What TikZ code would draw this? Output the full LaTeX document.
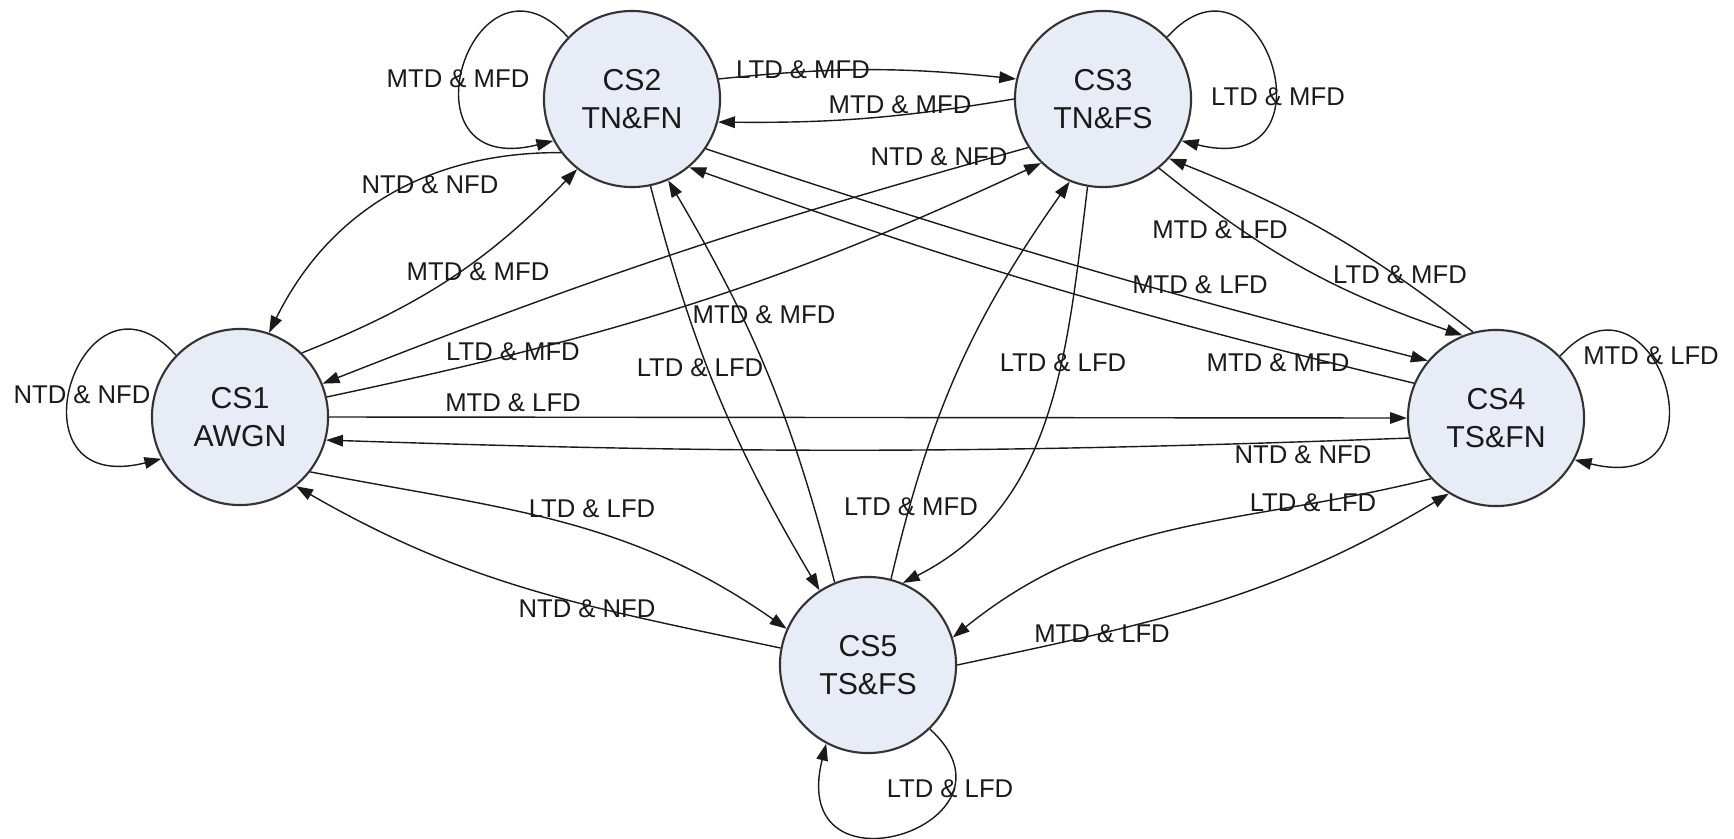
\documentclass[tikz,border=0pt]{standalone}
\usepackage{fontspec}
\setmainfont{Liberation Sans}
\usepackage{xcolor}
\usepackage{tikz}
\usetikzlibrary{arrows.meta}
\definecolor{csfill}{HTML}{E8ECF6}
\definecolor{csline}{HTML}{333333}
\definecolor{csink}{HTML}{1A1A1A}
\tikzset{
  state/.style={circle,draw=csline,line width=0.6pt,fill=csfill,
                minimum size=1.76cm,inner sep=0pt,align=center,
                font=\fontsize{8.6}{10.6}\selectfont,text=csink},
  lbl/.style={inner sep=0pt,font=\fontsize{7.3}{8.8}\selectfont,text=csink},
  flow/.style={-{Triangle[length=4.8pt,width=3.3pt]},line width=0.4pt,draw=csink},
}
\begin{document}
\begin{tikzpicture}[x=0.01cm,y=0.01cm]
\useasboundingbox (0,0) rectangle (1734,838);
\node[state] (cs1) at (240,421)  {CS1\\AWGN};
\node[state] (cs2) at (632,739)  {CS2\\TN\&FN};
\node[state] (cs3) at (1103,739) {CS3\\TN\&FS};
\node[state] (cs4) at (1496,420) {CS4\\TS\&FN};
\node[state] (cs5) at (868,173)  {CS5\\TS\&FS};

\draw[flow] (cs1.136) .. controls +(-95,105) and +(-160,-40) .. (cs1.208);
\draw[flow] (cs2.136) .. controls +(-95,105) and +(-160,-40) .. (cs2.208);
\draw[flow] (cs3.44) .. controls +(95,105) and +(160,-40) .. (cs3.-28);
\draw[flow] (cs4.44) .. controls +(95,105) and +(160,-40) .. (cs4.-28);
\draw[flow] (cs5.-46) .. controls +(105,-95) and +(-40,-160) .. (cs5.-118);

\draw[flow] (cs2.13) to[bend left=6] (cs3.167);
\draw[flow] (cs3.180) to[bend left=5] (cs2.-15);
\draw[flow] (cs2.217) to[bend right=32] (cs1.71);
\draw[flow] (cs1.46) to[bend right=12] (cs2.232);
\draw[flow] (cs3.213) to[bend right=3] (cs1.22);
\draw[flow] (cs1.13) to[out=12,in=205] (cs3.226);
\draw[flow] (cs1.0) -- (cs4.180);
\draw[flow] (cs4.193) to[bend left=2] (cs1.-15);
\draw[flow] (cs1.-38) to[out=-11,in=145] (cs5.156);
\draw[flow] (cs5.169) to[out=168,in=-30] (cs1.-51);
\draw[flow] (cs2.-34) to[bend right=2] (cs4.140);
\draw[flow] (cs4.157) to[bend left=3] (cs2.-50);
\draw[flow] (cs2.-78) to[bend right=8] (cs5.123);
\draw[flow] (cs5.112) to[bend right=8] (cs2.-66);
\draw[flow] (cs3.-51) to[bend right=10] (cs4.112);
\draw[flow] (cs4.105) to[bend right=8] (cs3.-42);
\draw[flow] (cs3.260) to[out=263,in=27] (cs5.67);
\draw[flow] (cs5.75) to[bend left=11] (cs3.248);
\draw[flow] (cs4.223) to[out=194,in=39] (cs5.18);
\draw[flow] (cs5.0) to[out=12,in=211] (cs4.238);

\node[lbl] (n11) at (82,443)   {NTD \& NFD};
\node[lbl] (n22) at (458,759)  {MTD \& MFD};
\node[lbl] (n33) at (1278,741) {LTD \& MFD};
\node[lbl] (n44) at (1651,482) {MTD \& LFD};
\node[lbl] (n55) at (950,49)   {LTD \& LFD};
\node[lbl] (n23) at (803,768)  {LTD \& MFD};
\node[lbl] (n32) at (900,733)  {MTD \& MFD};
\node[lbl] (n21) at (430,653)  {NTD \& NFD};
\node[lbl] (n12) at (478,566)  {MTD \& MFD};
\node[lbl] (n31) at (939,681)  {NTD \& NFD};
\node[lbl] (n13) at (513,486)  {LTD \& MFD};
\node[lbl] (n14) at (513,435)  {MTD \& LFD};
\node[lbl] (n41) at (1303,383) {NTD \& NFD};
\node[lbl] (n15) at (592,329)  {LTD \& LFD};
\node[lbl] (n51) at (587,229)  {NTD \& NFD};
\node[lbl] (n24) at (1200,553) {MTD \& LFD};
\node[lbl] (n42) at (1278,475) {MTD \& MFD};
\node[lbl] (n25) at (700,470)  {LTD \& LFD};
\node[lbl] (n52) at (764,523)  {MTD \& MFD};
\node[lbl] (n34) at (1220,608) {MTD \& LFD};
\node[lbl] (n43) at (1400,563) {LTD \& MFD};
\node[lbl] (n35) at (1063,475) {LTD \& LFD};
\node[lbl] (n53) at (911,331)  {LTD \& MFD};
\node[lbl] (n45) at (1313,335) {LTD \& LFD};
\node[lbl] (n54) at (1102,204) {MTD \& LFD};
\end{tikzpicture}
\end{document}
